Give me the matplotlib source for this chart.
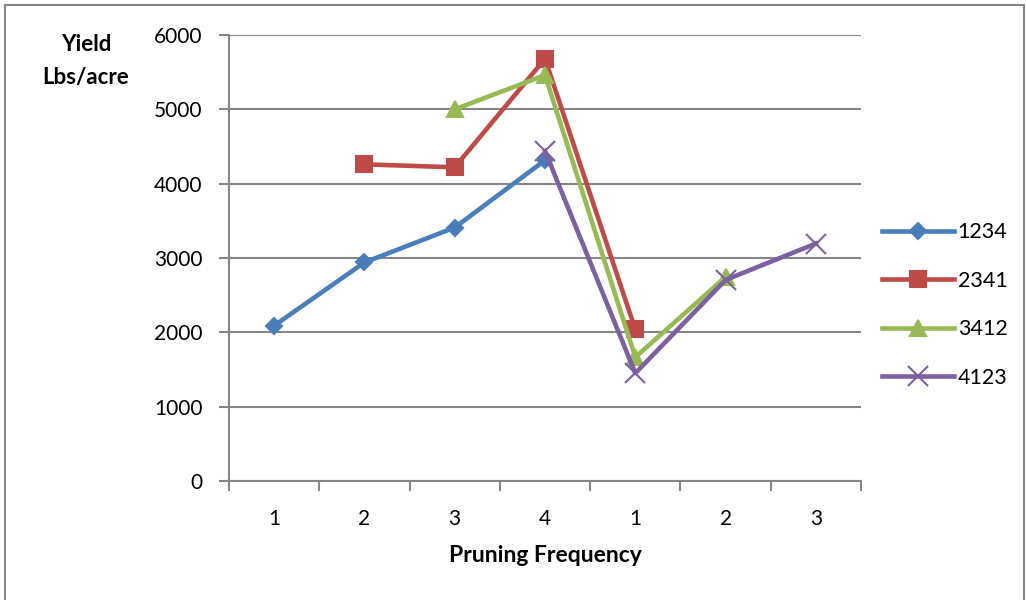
import numpy as np
import matplotlib
matplotlib.use("Agg")
import matplotlib.pyplot as plt
from matplotlib.patches import Rectangle
from matplotlib.lines import Line2D

plt.rcParams['font.family'] = ['Lato', 'DejaVu Sans']

# categories (pruning frequency) and the four rotation series
categories = ['1', '2', '3', '4', '1', '2', '3']
nan = np.nan
s1234 = [2090, 2940, 3410, 4315, nan, nan, nan]
s2341 = [nan, 4260, 4220, 5680, 2040, nan, nan]
s3412 = [nan, nan, 5000, 5460, 1665, 2745, nan]
s4123 = [nan, nan, nan, 4440, 1450, 2705, 3195]
series_names = ['1234', '2341', '3412', '4123']

colors = ['#4A7EBB', '#BE4B48', '#98B954', '#7D60A0']
markers = ['D', 's', '^', 'x']
msizes = [8.5, 11, 11, 14]

fig = plt.figure(figsize=(10.26, 6.0), dpi=100)
# outer chart border
fig.patches.append(Rectangle((5 / 1026, -0.1), 1019 / 1026, 1.1 - 5 / 600,
                             transform=fig.transFigure, fill=False,
                             edgecolor='#868686', linewidth=1.5))

ax = fig.add_axes([229 / 1026, 119 / 600, 632 / 1026, 446 / 600])
x = np.arange(len(categories))
for vals, c, m, ms, name in zip([s1234, s2341, s3412, s4123], colors, markers, msizes, series_names):
    ax.plot(x, vals, color=c, lw=3.3, marker=m, markersize=ms, mew=1.5,
            clip_on=False, zorder=3, label=name)

ax.set_xlim(-0.5, len(categories) - 0.5)
ax.set_ylim(0, 6000)
ax.set_yticks(range(0, 6001, 1000))
ax.yaxis.grid(True, color='#868686', lw=1.5)
ax.set_axisbelow(True)
ax.set_xticks(x)
ax.set_xticklabels(categories)
ax.set_xticks(np.arange(-0.5, len(categories), 1), minor=True)
ax.tick_params(axis='x', which='major', length=0, pad=20, labelsize=15)
ax.tick_params(axis='x', which='minor', length=7, width=1.5, color='#868686', direction='out')
ax.tick_params(axis='y', length=7, width=1.5, color='#868686', pad=12, labelsize=15)
for s in ['top', 'right']:
    ax.spines[s].set_visible(False)
for s in ['left', 'bottom']:
    ax.spines[s].set_color('#868686')
    ax.spines[s].set_linewidth(1.5)

fig.text(86 / 1026, 1 - 61 / 600, 'Yield\nLbs/acre', ha='center', va='center',
         fontsize=16, fontweight='bold', linespacing=1.65)
fig.text(545 / 1026, 1 - 555 / 600, 'Pruning Frequency', ha='center', va='center',
         fontsize=16.5, fontweight='bold')

handles = [Line2D([], [], color=c, lw=3.3, marker=m, markersize=ms, mew=1.5)
           for c, m, ms in zip(colors, markers, msizes)]
fig.legend(handles, series_names, loc='center left', bbox_to_anchor=(863 / 1026, 1 - 305 / 600),
           frameon=False, fontsize=15.5, handlelength=3.35, handletextpad=0.15,
           labelspacing=1.32)

fig.savefig('out.png', dpi=100)
